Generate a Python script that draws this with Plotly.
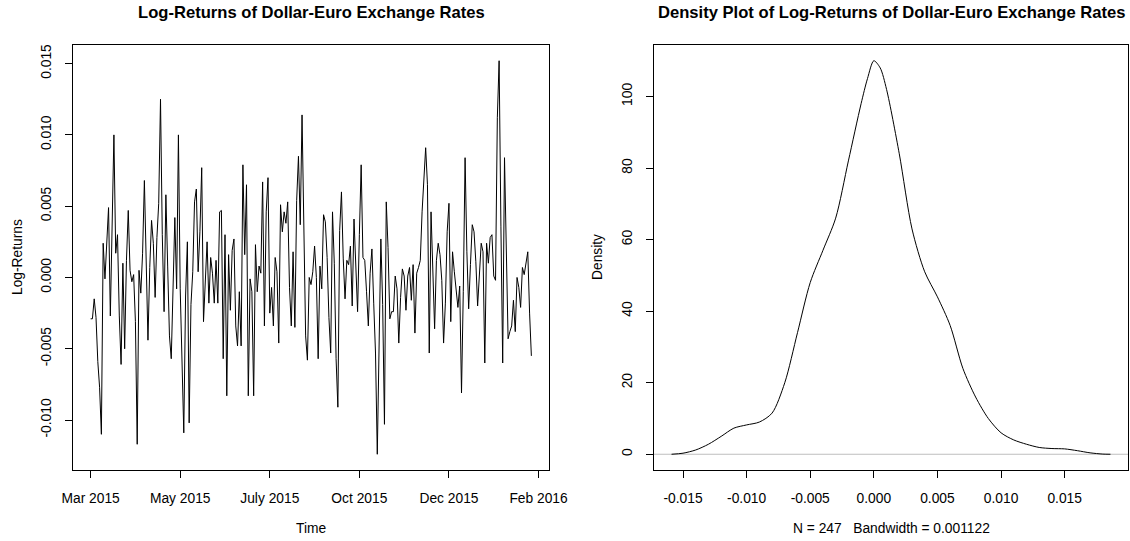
import numpy as np
import plotly.graph_objects as go

# Daily log-returns of the USD/EUR exchange rate (247 trading days)
log_returns = [
    -0.0029, -0.0029, -0.0015, -0.0028, -0.0059, -0.0077, -0.0110, 0.0024, -0.0001, 0.0028,
    0.0049, -0.0027, 0.0045, 0.0100, 0.0017, 0.0030, -0.0027, -0.0061, 0.0010, -0.0050,
    0.0012, 0.0047, 0.0005, -0.0003, 0.0002, -0.0031, -0.0117, 0.0005, -0.0011, 0.0017,
    0.0068, 0.0015, -0.0044, 0.0007, 0.0040, 0.0024, -0.0014, 0.0028, 0.0052, 0.0125,
    0.0030, -0.0024, 0.0058, 0.0008, -0.0041, -0.0057, 0.0000, 0.0042, -0.0008, 0.0100,
    -0.0008, -0.0071, -0.0109, -0.0013, 0.0025, -0.0102, -0.0019, 0.0004, 0.0053, 0.0062,
    0.0004, 0.0032, 0.0077, -0.0031, -0.0001, 0.0025, -0.0018, 0.0014, 0.0003, -0.0018,
    0.0012, -0.0018, 0.0046, 0.0047, -0.0057, 0.0030, -0.0083, 0.0016, -0.0023, 0.0019,
    0.0027, -0.0034, -0.0048, -0.0010, -0.0048, 0.0079, 0.0016, 0.0065, -0.0083, -0.0001,
    -0.0010, -0.0083, 0.0023, -0.0010, 0.0008, 0.0003, 0.0067, -0.0034, 0.0046, 0.0070,
    -0.0025, -0.0007, -0.0034, 0.0014, 0.0004, -0.0046, 0.0051, 0.0032, 0.0046, 0.0038,
    0.0053, -0.0007, -0.0034, 0.0018, -0.0035, 0.0054, 0.0085, 0.0037, 0.0114, 0.0030,
    -0.0041, -0.0058, 0.0000, -0.0005, 0.0004, 0.0022, 0.0000, -0.0057, 0.0008, -0.0008,
    0.0044, 0.0039, 0.0014, -0.0028, -0.0053, 0.0046, 0.0010, -0.0057, -0.0091, 0.0033,
    0.0060, 0.0013, -0.0015, 0.0012, 0.0009, 0.0022, -0.0020, 0.0041, 0.0010, -0.0024,
    0.0030, 0.0079, 0.0014, 0.0012, -0.0010, -0.0034, 0.0003, 0.0020, -0.0018, -0.0053,
    -0.0124, -0.0040, 0.0027, -0.0019, -0.0103, 0.0053, 0.0021, -0.0029, -0.0024, -0.0024,
    0.0001, -0.0008, -0.0046, -0.0014, 0.0006, 0.0001, -0.0023, 0.0001, 0.0007, -0.0016,
    0.0009, -0.0039, 0.0003, 0.0007, 0.0012, 0.0046, 0.0074, 0.0091, 0.0065, -0.0053,
    0.0046, 0.0003, -0.0036, 0.0012, 0.0024, 0.0016, -0.0002, -0.0046, -0.0018, 0.0032,
    0.0052, -0.0031, 0.0018, 0.0004, -0.0010, -0.0021, -0.0006, -0.0081, -0.0010, 0.0084,
    0.0018, -0.0022, 0.0009, 0.0037, 0.0032, 0.0011, -0.0020, 0.0005, 0.0024, 0.0018,
    -0.0060, 0.0024, 0.0010, 0.0028, 0.0030, 0.0001, -0.0002, 0.0112, 0.0152, 0.0036,
    -0.0060, 0.0084, 0.0014, -0.0043, -0.0038, -0.0034, -0.0016, -0.0038, 0.0000, -0.0007,
    -0.0021, 0.0007, 0.0002, 0.0012, 0.0018, -0.0025, -0.0055,
]

time_tick_obs = [1, 51, 101, 151, 201, 251]
time_tick_labels = ["Mar 2015", "May 2015", "July 2015", "Oct 2015", "Dec 2015", "Feb 2016"]

return_ticks = [-0.010, -0.005, 0.000, 0.005, 0.010, 0.015]
return_tick_labels = ["-0.010", "-0.005", "0.000", "0.005", "0.010", "0.015"]

# Kernel density estimate of the returns (N = 247, bandwidth = 0.001122)
bandwidth = 0.001122
density_x = [
    -0.0159, -0.0150, -0.0140, -0.0130, -0.0120, -0.0110, -0.0100, -0.0090,
    -0.0080, -0.0070, -0.0060, -0.0050, -0.0040, -0.0030, -0.0020, -0.0010,
    -0.0005, 0.0000, 0.0005, 0.0010, 0.0020, 0.0030, 0.0040, 0.0050,
    0.0060, 0.0070, 0.0080, 0.0090, 0.0100, 0.0110, 0.0120, 0.0130,
    0.0140, 0.0150, 0.0160, 0.0170, 0.0180, 0.0186,
]
density_y = [
    0.0, 0.3, 1.2, 2.8, 5.0, 7.3, 8.2, 9.0,
    11.5, 20.0, 34.0, 48.0, 57.0, 66.0, 82.0, 98.0,
    105.0, 110.0, 108.0, 102.0, 84.0, 63.0, 51.0, 44.0,
    36.0, 24.0, 16.0, 10.0, 6.0, 4.0, 2.8, 1.9,
    1.6, 1.5, 1.0, 0.4, 0.05, 0.0,
]

density_x_ticks = [-0.015, -0.010, -0.005, 0.000, 0.005, 0.010, 0.015]
density_x_labels = ["-0.015", "-0.010", "-0.005", "0.000", "0.005", "0.010", "0.015"]
density_y_ticks = [0, 20, 40, 60, 80, 100]

n_obs = len(log_returns)
obs = np.arange(1, n_obs + 1)


def padded(lo, hi, frac=0.04):
    span = hi - lo
    return [lo - frac * span, hi + frac * span]


W, H = 1130, 541
FONT = "Liberation Sans, Arial, sans-serif"
TICK_SIZE = 13.8
TITLE_SIZE = 16.6

axis_style = dict(
    showline=True, linecolor="black", linewidth=1, mirror=True,
    ticks="outside", ticklen=7, tickwidth=1, tickcolor="black",
    showgrid=False, zeroline=False, automargin=False,
    tickfont=dict(family=FONT, size=TICK_SIZE, color="black"),
)

fig = go.Figure()

fig.add_trace(go.Scatter(
    x=obs, y=log_returns, mode="lines", line=dict(color="black", width=1),
    xaxis="x", yaxis="y", hoverinfo="skip", showlegend=False,
))
fig.add_trace(go.Scatter(
    x=density_x, y=density_y, mode="lines",
    line=dict(color="black", width=1, shape="spline", smoothing=0.8),
    xaxis="x2", yaxis="y2", hoverinfo="skip", showlegend=False,
))

left_dom = [73 / W, 549 / W]
right_dom = [654 / W, 1128 / W]
y_dom = [1 - 470 / H, 1 - 45 / H]

fig.update_layout(
    template="none",
    width=W, height=H,
    margin=dict(l=0, r=0, t=0, b=0, autoexpand=False),
    paper_bgcolor="white", plot_bgcolor="white",
    showlegend=False,
    xaxis=dict(axis_style, domain=left_dom, anchor="y",
               range=padded(1, n_obs), tickvals=time_tick_obs,
               ticktext=time_tick_labels, ticklabelstandoff=8),
    yaxis=dict(axis_style, domain=y_dom, anchor="x",
               range=padded(min(log_returns), max(log_returns)), tickvals=return_ticks,
               ticktext=return_tick_labels, tickangle=-90, ticklabelstandoff=8),
    xaxis2=dict(axis_style, domain=right_dom, anchor="y2",
                range=padded(min(density_x), max(density_x)), tickvals=density_x_ticks,
                ticktext=density_x_labels, ticklabelstandoff=8),
    yaxis2=dict(axis_style, domain=y_dom, anchor="x2",
                range=padded(0, max(density_y)), tickvals=density_y_ticks,
                tickangle=-90, ticklabelstandoff=8),
)

# grey zero reference line of the density panel
fig.add_shape(type="line", xref="x2 domain", yref="y2", x0=0, x1=1, y0=0, y1=0,
              line=dict(color="#BEBEBE", width=1), layer="below")

title_font = dict(family=FONT, size=TITLE_SIZE, color="black")
label_font = dict(family=FONT, size=TICK_SIZE, color="black")


def add_text(text, x, y, font, angle=0):
    fig.add_annotation(text=text, x=x / W, y=1 - y / H, xref="paper", yref="paper",
                       showarrow=False, font=font, textangle=angle,
                       xanchor="center", yanchor="middle")


add_text("<b>Log-Returns of Dollar-Euro Exchange Rates</b>", 311, 13, title_font)
add_text("<b>Density Plot of Log-Returns of Dollar-Euro Exchange Rates</b>", 891, 13, title_font)
add_text("Time", 311, 528, label_font)
add_text("N = 247\u00a0\u00a0\u00a0Bandwidth = 0.001122", 891, 528, label_font)
add_text("Log-Returns", 17, 257, label_font, -90)
add_text("Density", 597, 257, label_font, -90)

fig.write_html("out.html")
